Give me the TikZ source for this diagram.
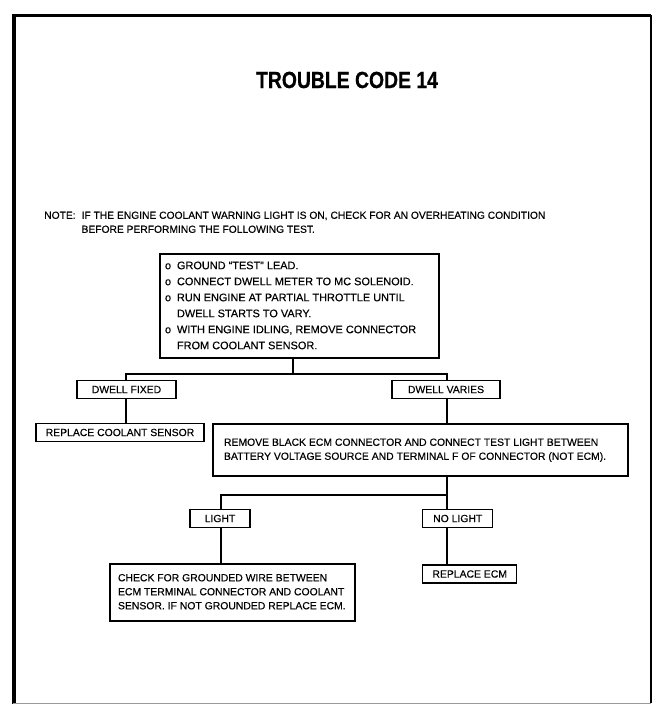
\documentclass[tikz,border=0pt]{standalone}
\usepackage{fontspec}
\setmainfont{Liberation Sans}
\newfontfamily\printfont{Liberation Sans}[FakeBold=0.35]
\newfontfamily\titlefont{Liberation Sans}[BoldFeatures={FakeBold=0.6}]
\newcommand\leftblock[2]{\makebox[#1][l]{\begin{tabular}{@{}l@{}}#2\end{tabular}}}
\newcommand\bul{\makebox[9pt][l]{o}}
\begin{document}
\begin{tikzpicture}[x=0.75pt,y=-0.75pt,
  box/.style={draw, line width=1.1pt, inner sep=0pt, font=\printfont\fontsize{7.8}{10.5}\selectfont},
  tag/.style={box, minimum height=13.5pt},
  link/.style={line width=1.2pt},
]
\useasboundingbox (0,0) rectangle (657,705);

% outer frame
\draw[line width=3pt] (13.5,15) -- (13.5,704);
\draw[line width=1.8pt] (12,15.5) -- (651,15.5);
\draw[line width=1.3pt] (651,15) -- (651,703);
\draw[line width=0.7pt, black!40] (13,703.5) -- (651,703.5);

% heading and note
\node (title) at (347,80) {\scalebox{0.83}[1]{\titlefont\fontsize{17.5}{20}\selectfont\bfseries TROUBLE CODE 14}};
\node[anchor=base west, inner sep=0pt, font=\printfont\fontsize{7.7}{10.5}\selectfont] (note) at (44,218.8)
  {\begin{tabular}[t]{@{}p{28pt}@{}l@{}}
   NOTE: & IF THE ENGINE COOLANT WARNING LIGHT IS ON, CHECK FOR AN OVERHEATING CONDITION\\
         & BEFORE PERFORMING THE FOLLOWING TEST.
   \end{tabular}};

% test procedure
\node[box, minimum width=209.25pt, minimum height=78pt, font=\printfont\fontsize{8.2}{12}\selectfont] (test) at (299.5,306)
  {\leftblock{201.75pt}{\bul GROUND \textquotedblleft TEST\textquotedblright\ LEAD.\\
   \bul CONNECT DWELL METER TO MC SOLENOID.\\
   \bul RUN ENGINE AT PARTIAL THROTTLE UNTIL\\
   \hspace*{9pt}DWELL STARTS TO VARY.\\
   \bul WITH ENGINE IDLING, REMOVE CONNECTOR\\
   \hspace*{9pt}FROM COOLANT SENSOR.}};

% first branch
\node[tag, minimum width=74.25pt] (dfixed) at (126.5,389.5) {DWELL FIXED};
\node[tag, minimum width=81pt] (dvaries) at (446,389.5) {DWELL VARIES};
\node[tag, minimum width=126pt] (rcs) at (120,432.5) {REPLACE COOLANT SENSOR};
\node[box, minimum width=311.25pt, minimum height=39pt] (remove) at (420.5,450)
  {\leftblock{294.75pt}{REMOVE BLACK ECM CONNECTOR AND CONNECT TEST LIGHT BETWEEN\\
   BATTERY VOLTAGE SOURCE AND TERMINAL F OF CONNECTOR (NOT ECM).}};

% second branch
\node[tag, minimum width=45pt] (light) at (220,518.5) {LIGHT};
\node[tag, minimum width=52.5pt, anchor=west] (nolight) at (422,518.5) {NO LIGHT};
\node[tag, minimum width=70.5pt, anchor=west] (recm) at (422,574) {REPLACE ECM};
\node[box, minimum width=183.75pt, minimum height=42.75pt] (check) at (232.5,592.5)
  {\leftblock{171.75pt}{CHECK FOR GROUNDED WIRE BETWEEN\\
   ECM TERMINAL CONNECTOR AND COOLANT\\
   SENSOR. IF NOT GROUNDED REPLACE ECM.}};

% junction points
\coordinate (j1) at (293,374);
\coordinate (j1l) at (126,374);
\coordinate (j1r) at (447,374);
\coordinate (j2) at (447,495);
\coordinate (j2l) at (221,495);

% connectors
\draw[link] (test.south -| j1) -- (j1);
\draw[link] (dfixed.north -| j1l) -- (j1l) -- (j1r) -- (dvaries.north -| j1r);
\draw[link] (dfixed.south -| j1l) -- (rcs.north -| j1l);
\draw[link] (dvaries.south -| j1r) -- (remove.north -| j1r);
\draw[link] (remove.south -| j2) -- (j2);
\draw[link] (light.north -| j2l) -- (j2l) -- (j2) -- (nolight.north -| j2);
\draw[link] (light.south -| j2l) -- (check.north -| j2l);
\draw[link] (nolight.south -| j2) -- (recm.north -| j2);
\end{tikzpicture}
\end{document}
